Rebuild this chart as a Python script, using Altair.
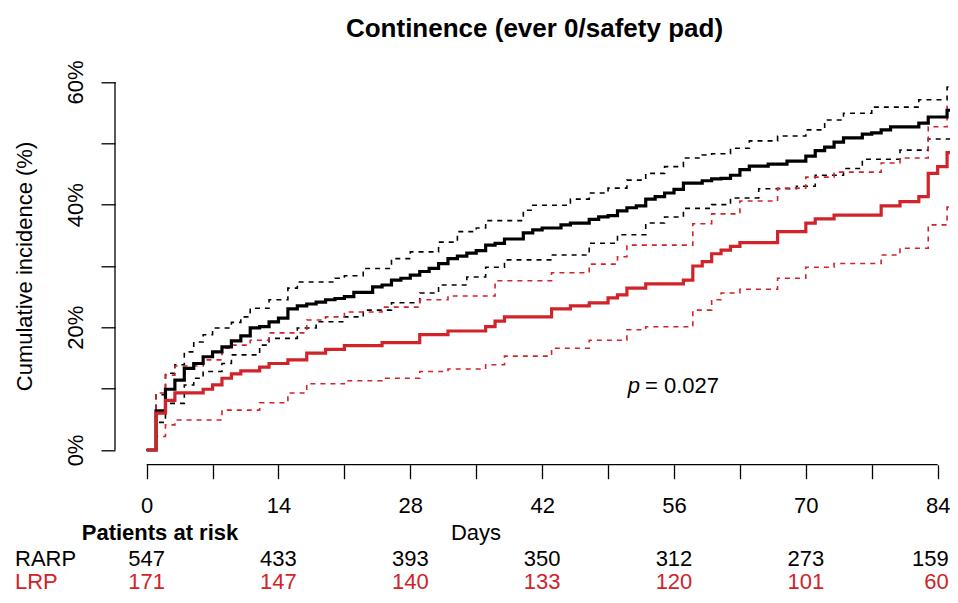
import altair as alt
import pandas as pd

FONT = "Liberation Sans"
BLACK = "#000000"
RED = "#d0232a"

# ---- data (days, cumulative incidence %) ----
rarp_days = [0, 1, 2, 3, 4, 5, 6, 7, 8, 9, 10, 11, 12, 13, 14, 15, 16, 17, 18, 19, 20, 21, 22,
             24, 25, 26, 27, 28, 29, 30, 31, 32, 33, 34, 35, 36, 37, 38,
             40, 41, 42, 44, 45, 47, 48, 49, 50, 51, 52, 53, 54, 55, 56, 57,
             59, 60, 61, 62, 63, 64, 66, 68, 70, 71, 72, 73, 74, 76, 77, 78, 79, 82, 83, 85]
rarp_est = [0, 6.4, 9.9, 11.4, 13.3, 14.1, 15.2, 16.0, 16.8, 17.8, 18.6, 19.9, 20.1, 20.9, 21.5, 23.0, 23.5, 23.8, 24.1, 24.5, 24.7, 25.0, 25.7,
            26.6, 26.9, 27.7, 28.0, 28.5, 29.1, 29.6, 30.4, 31.2, 31.6, 32.1, 32.5, 33.4, 33.7, 34.4,
            35.4, 35.9, 36.2, 36.7, 37.0, 37.6, 38.0, 38.2, 39.0, 39.5, 39.8, 40.9, 41.3, 41.9, 42.5, 43.5,
            43.9, 44.2, 44.3, 44.8, 45.7, 46.3, 46.6, 47.1, 47.9, 48.8, 49.4, 50.2, 50.9, 51.5, 51.7, 52.2, 52.7, 53.3, 54.3, 55.4]

rarp_up_days = [0, 1, 2, 3, 4, 5, 6, 7, 9, 10, 11, 13, 15, 16, 20, 21, 23, 26, 28, 31, 33, 35, 36, 40, 41, 45,
                47, 49, 51, 53, 55, 57, 59, 60, 62, 64, 67, 70, 72, 74, 77, 82, 85]
rarp_up = [0, 9.0, 12.5, 13.9, 16.0, 17.6, 18.8, 19.9, 20.8, 21.7, 23.1, 24.5, 26.4, 27.4, 28.0, 28.4, 29.6, 31.2, 32.3, 33.9, 35.6, 36.2, 37.4, 39.1, 39.9, 40.9,
           41.9, 42.7, 44.0, 45.1, 46.2, 47.6, 48.1, 48.3, 49.2, 50.4, 51.2, 52.2, 53.8, 54.9, 55.9, 57.1, 59.2]

rarp_lo_days = [0, 1, 2, 4, 5, 6, 8, 9, 12, 13, 16, 18, 21, 23, 26, 29, 31, 34, 36, 38, 43, 47, 50, 53, 55, 57,
                60, 62, 65, 69, 71, 74, 76, 80, 83]
rarp_lo = [0, 4.5, 7.6, 10.6, 11.7, 12.8, 14.1, 15.5, 17.1, 18.2, 19.9, 20.9, 21.7, 22.8, 24.0, 25.6, 26.9, 28.2, 29.8, 31.0, 31.8, 33.7, 35.1, 37.0, 38.0, 39.4,
           40.0, 41.1, 42.6, 43.0, 44.8, 45.9, 47.4, 48.9, 50.7]

lrp_days = [0, 1, 2, 3, 6, 7, 8, 9, 10, 12, 13, 15, 17, 19, 21, 25, 29, 32, 36, 37, 38, 43, 45, 47, 49,
            50, 51, 53, 57, 58, 59, 60, 61, 62, 63, 67, 70, 71, 73, 78, 80, 82, 83, 84, 85]
lrp_est = [0, 6.0, 8.1, 9.3, 9.9, 10.6, 11.7, 12.4, 12.9, 13.5, 14.1, 14.7, 15.8, 16.4, 17.0, 17.5, 18.8, 19.4, 20.1, 21.0, 21.7, 23.0, 23.5, 24.0, 24.8,
           25.3, 26.4, 27.1, 27.7, 30.0, 30.7, 32.0, 32.6, 33.2, 33.8, 35.6, 37.0, 37.7, 38.3, 39.8, 40.5, 41.3, 45.1, 46.2, 48.5]

lrp_up_days = [0, 1, 2, 3, 6, 8, 9, 11, 13, 17, 19, 21, 25, 29, 32, 37, 43, 47, 50, 51, 58, 60, 63, 67, 70, 73, 78, 80, 83, 85]
lrp_up = [0, 9.3, 12.2, 13.7, 14.7, 16.6, 17.1, 17.9, 19.1, 21.2, 21.7, 22.5, 23.3, 24.5, 25.1, 27.6, 28.9, 30.3, 31.5, 33.4, 36.9, 38.5, 40.6, 42.7, 44.5, 45.3, 46.8, 47.6, 52.7, 56.2]

lrp_lo_days = [0, 1, 2, 3, 8, 12, 15, 17, 21, 25, 29, 32, 36, 38, 43, 47, 51, 53, 58, 60, 61, 63, 67, 70, 73, 78, 80, 83, 85]
lrp_lo = [0, 2.2, 4.1, 4.9, 6.5, 7.7, 9.3, 10.8, 11.3, 11.7, 12.8, 13.2, 13.9, 15.3, 16.6, 17.9, 19.6, 20.1, 22.8, 24.5, 25.6, 26.2, 28.0, 29.8, 30.4, 31.8, 32.9, 36.7, 39.6]

risk_days = [0, 14, 28, 42, 56, 70, 84]
risk_rarp = [547, 433, 393, 350, 312, 273, 159]
risk_lrp = [171, 147, 140, 133, 120, 101, 60]

x_ticks = list(range(0, 85, 7))
y_ticks = [0, 10, 20, 30, 40, 50, 60]

title_text = "Continence (ever 0/safety pad)"
y_title = "Cumulative incidence (%)"

# ---- layout ----
W, H = 835, 397.4
X_DOMAIN = [-3.36, 85.31]
Y_DOMAIN = [-2.4, 62.4]
X_END = 88


def series(days, vals, name):
    d = list(days) + [X_END]
    v = list(vals) + [vals[-1]]
    return pd.DataFrame({"day": d, "pct": v, "series": name})


df_black_ci = pd.concat([series(rarp_up_days, rarp_up, "RARP upper"),
                         series(rarp_lo_days, rarp_lo, "RARP lower")])
df_red_ci = pd.concat([series(lrp_up_days, lrp_up, "LRP upper"),
                       series(lrp_lo_days, lrp_lo, "LRP lower")])
df_black = series(rarp_days, rarp_est, "RARP")
df_red = series(lrp_days, lrp_est, "LRP")
df_risk = pd.DataFrame({"day": risk_days, "rarp": risk_rarp, "lrp": risk_lrp})
df_risk_main = df_risk[df_risk["day"] < 84]
df_risk_last = df_risk[df_risk["day"] == 84]
one = pd.DataFrame({"a": [0]})

xs = alt.Scale(domain=X_DOMAIN, nice=False, zero=False)
ys = alt.Scale(domain=Y_DOMAIN, nice=False, zero=False)

x_axis = alt.Axis(values=x_ticks, labelExpr="datum.value % 14 == 0 ? datum.label : ''",
                  domain=False, grid=False, tickSize=14, tickWidth=1.3, tickColor=BLACK,
                  labelFont=FONT, labelFontSize=22, labelColor=BLACK, labelPadding=17,
                  labelFlush=False, labelOverlap=False, title=None, format="d")
y_axis = alt.Axis(values=y_ticks, labelExpr="datum.value % 20 == 0 ? datum.value + '%' : ''",
                  domain=False, grid=False, tickSize=14, tickWidth=1.3, tickColor=BLACK,
                  labelFont=FONT, labelFontSize=22, labelColor=BLACK, labelPadding=19,
                  labelAngle=270, labelAlign="center", labelBaseline="alphabetic",
                  labelFlush=False, labelOverlap=False,
                  title=y_title, titleFont=FONT, titleFontSize=22, titleFontWeight="normal",
                  titleColor=BLACK, titleAngle=270, titleAlign="center", titleBaseline="alphabetic",
                  titleX=-84, titleY=198.7)

X = alt.X("day:Q", scale=xs, axis=x_axis)
Y = alt.Y("pct:Q", scale=ys, axis=y_axis)

black_ci = alt.Chart(df_black_ci).mark_line(
    interpolate="step-after", color=BLACK, strokeWidth=1.6, strokeDash=[5, 5], clip=True
).encode(x=X, y=Y, detail="series:N")

red_ci = alt.Chart(df_red_ci).mark_line(
    interpolate="step-after", color=RED, strokeWidth=1.6, strokeDash=[5, 5], clip=True
).encode(x=X, y=Y, detail="series:N")

black_line = alt.Chart(df_black).mark_line(
    interpolate="step-after", color=BLACK, strokeWidth=3.2, clip=True
).encode(x=X, y=Y)

red_line = alt.Chart(df_red).mark_line(
    interpolate="step-after", color=RED, strokeWidth=3.2, clip=True
).encode(x=X, y=Y)

x_domain_line = alt.Chart(one).mark_rule(color=BLACK, strokeWidth=1.3).encode(
    x=alt.datum(0, scale=xs), x2=alt.datum(84), y=alt.value(H))
y_domain_line = alt.Chart(one).mark_rule(color=BLACK, strokeWidth=1.3).encode(
    y=alt.datum(0, scale=ys), y2=alt.datum(60), x=alt.value(0))

txt = dict(font=FONT, fontSize=22, baseline="alphabetic")

ROW_HEAD = 472.7
ROW_RARP = 498.7
ROW_LRP = 521.7

title = alt.Chart(one).mark_text(text=title_text, align="center", font=FONT, fontSize=26,
                                 fontWeight="bold", baseline="alphabetic", color=BLACK).encode(
    x=alt.value(419.5), y=alt.value(-30.6))

p_lab = alt.Chart(one).mark_text(text="p", align="right", fontStyle="italic", color=BLACK, **txt).encode(
    x=alt.value(525), y=alt.value(325.7))
p_val = alt.Chart(one).mark_text(text="= 0.027", align="left", color=BLACK, **txt).encode(
    x=alt.value(530), y=alt.value(325.7))

days_lab = alt.Chart(one).mark_text(text="Days", align="center", color=BLACK, **txt).encode(
    x=alt.value(361), y=alt.value(ROW_HEAD))
risk_head = alt.Chart(one).mark_text(text="Patients at risk", align="center", fontWeight="bold",
                                     color=BLACK, **txt).encode(
    x=alt.value(45), y=alt.value(ROW_HEAD))
rarp_lab = alt.Chart(one).mark_text(text="RARP", align="left", color=BLACK, **txt).encode(
    x=alt.value(-100), y=alt.value(ROW_RARP))
lrp_lab = alt.Chart(one).mark_text(text="LRP", align="left", color=RED, **txt).encode(
    x=alt.value(-100), y=alt.value(ROW_LRP))

rarp_risk = alt.Chart(df_risk_main).mark_text(align="center", color=BLACK, **txt).encode(
    x=alt.X("day:Q", scale=xs), y=alt.value(ROW_RARP), text="rarp:Q")
lrp_risk = alt.Chart(df_risk_main).mark_text(align="center", color=RED, **txt).encode(
    x=alt.X("day:Q", scale=xs), y=alt.value(ROW_LRP), text="lrp:Q")
rarp_risk_last = alt.Chart(df_risk_last).mark_text(align="right", dx=11, color=BLACK, **txt).encode(
    x=alt.X("day:Q", scale=xs), y=alt.value(ROW_RARP), text="rarp:Q")
lrp_risk_last = alt.Chart(df_risk_last).mark_text(align="right", dx=11, color=RED, **txt).encode(
    x=alt.X("day:Q", scale=xs), y=alt.value(ROW_LRP), text="lrp:Q")

chart = alt.layer(
    black_ci, red_ci, black_line, red_line, x_domain_line, y_domain_line,
    title, p_lab, p_val, days_lab, risk_head, rarp_lab, lrp_lab,
    rarp_risk, lrp_risk, rarp_risk_last, lrp_risk_last
).properties(
    width=W, height=H,
    autosize=alt.AutoSizeParams(type="none"),
    padding={"left": 107, "top": 59.3, "right": 0, "bottom": 129.3},
).configure_view(stroke=None)

chart.save("out.html", embed_options={"renderer": "svg", "actions": False})
